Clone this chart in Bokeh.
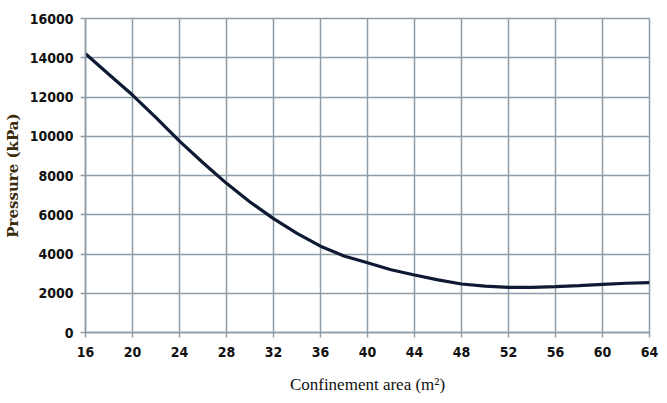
from bokeh.plotting import figure
from bokeh.models import FixedTicker, Range1d
from bokeh.embed import file_html
from bokeh.resources import INLINE

# Data
area = [16, 18, 20, 22, 24, 26, 28, 30, 32, 34, 36, 38, 40, 42, 44, 46, 48, 50, 52, 54, 56, 58, 60, 62, 64]
pressure = [14200, 13150, 12100, 10950, 9750, 8650, 7600, 6650, 5800, 5050, 4400, 3900, 3550,
            3200, 2930, 2680, 2470, 2360, 2300, 2300, 2340, 2390, 2450, 2510, 2540]

x_ticks = [16, 20, 24, 28, 32, 36, 40, 44, 48, 52, 56, 60, 64]
y_ticks = [0, 2000, 4000, 6000, 8000, 10000, 12000, 14000, 16000]

grid_col = "#8d9ca7"

p = figure(output_backend="svg", toolbar_location=None,
           frame_width=564, frame_height=314,
           min_border_left=83, min_border_right=12, min_border_top=18, min_border_bottom=63,
           x_range=Range1d(16, 64), y_range=Range1d(0, 16000))
p.background_fill_color = "white"
p.border_fill_color = "white"
p.outline_line_color = grid_col
p.outline_line_width = 1.5

p.line(area, pressure, line_color="#0e1a33", line_width=3.2)

p.xaxis.ticker = FixedTicker(ticks=x_ticks)
p.yaxis.ticker = FixedTicker(ticks=y_ticks)
p.xgrid.ticker = FixedTicker(ticks=x_ticks)
p.ygrid.ticker = FixedTicker(ticks=y_ticks)

for g in (p.xgrid, p.ygrid):
    g.grid_line_color = grid_col
    g.grid_line_width = 1.5
    g.grid_line_alpha = 1.0

for ax in (p.xaxis, p.yaxis):
    ax.axis_line_color = grid_col
    ax.axis_line_width = 1.5
    ax.major_tick_line_color = grid_col
    ax.major_tick_line_width = 1.5
    ax.major_tick_out = 5
    ax.major_tick_in = 0
    ax.minor_tick_line_color = None
    ax.major_label_text_font = "DejaVu Sans Condensed"
    ax.major_label_text_font_style = "bold"
    ax.major_label_text_font_size = "14px"
    ax.major_label_text_color = "#111111"

p.yaxis.formatter.use_scientific = False
p.xaxis.major_label_standoff = 9
p.yaxis.major_label_standoff = 7

p.xaxis.axis_label = "Confinement area (m²)"
p.xaxis.axis_label_text_font = "Liberation Serif"
p.xaxis.axis_label_text_font_style = "normal"
p.xaxis.axis_label_text_font_size = "17px"
p.xaxis.axis_label_text_color = "#111111"
p.xaxis.axis_label_standoff = 15

p.yaxis.axis_label = "Pressure (kPa)"
p.yaxis.axis_label_text_font = "DejaVu Serif"
p.yaxis.axis_label_text_font_style = "bold"
p.yaxis.axis_label_text_font_size = "15px"
p.yaxis.axis_label_text_color = "#3a2c0c"
p.yaxis.axis_label_standoff = 5

open("out.html", "w").write(file_html(p, INLINE))
